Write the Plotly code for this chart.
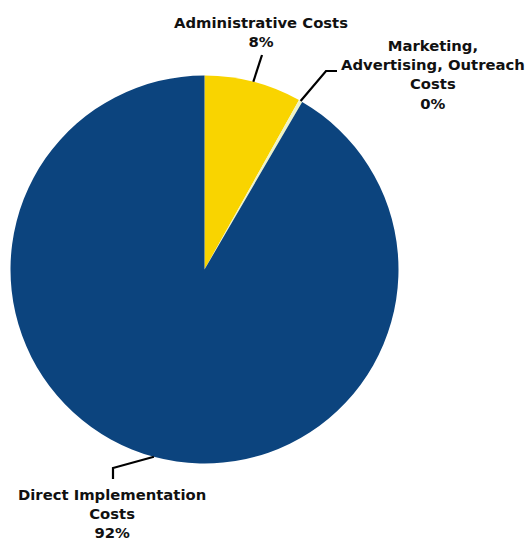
import math
import plotly.graph_objects as go

# Budget shares by cost category (percent)
categories = ["Administrative Costs", "Marketing, Advertising, Outreach Costs", "Direct Implementation Costs"]
label_lines = [["Administrative Costs"], ["Marketing,", "Advertising, Outreach", "Costs"], ["Direct Implementation", "Costs"]]
shares = [8.1, 0.3, 91.6]
colors = ["#f9d400", "#eef3c6", "#0c447e"]

W, H = 527, 540
CX, CY, R = 204.5, 269.5, 194.0  # pie centre and radius in pixels

# label block centres and leader-line bend/end points (pixels)
label_pos = [(261, 32), (433, 75), (112, 513)]
leader_tail = [[(262, 55)], [(326, 71), (337, 71)], [(113, 468), (113, 479)]]


def px(x, y):
    return x / W, 1 - y / H


total = sum(shares)
pct_text = [f"{round(v / total * 100)}%" for v in shares]

fig = go.Figure(
    go.Pie(
        labels=categories,
        values=shares,
        sort=False,
        direction="clockwise",
        rotation=0,
        marker=dict(colors=colors, line=dict(width=0)),
        textinfo="none",
        hoverinfo="label+percent",
        showlegend=False,
        domain=dict(x=[(CX - R) / W, (CX + R) / W], y=[1 - (CY + R) / H, 1 - (CY - R) / H]),
    )
)

font = dict(family="DejaVu Sans", size=14.8, color="#111111")
annotations = []
shapes = []
cum = 0.0
for i, v in enumerate(shares):
    mid = (cum + v / 2) / total * 2 * math.pi
    cum += v
    sx, sy = CX + R * math.sin(mid), CY - R * math.cos(mid)
    pts = [(sx, sy)] + leader_tail[i]
    path = "M " + " L ".join(f"{px(x, y)[0]:.5f},{px(x, y)[1]:.5f}" for x, y in pts)
    shapes.append(dict(type="path", xref="paper", yref="paper", path=path,
                       line=dict(color="black", width=2.2)))
    lx, ly = px(*label_pos[i])
    text = "<br>".join(f"<b>{t}</b>" for t in label_lines[i] + [pct_text[i]])
    annotations.append(dict(x=lx, y=ly, xref="paper", yref="paper", text=text,
                            showarrow=False, xanchor="center", yanchor="middle",
                            align="center", font=font))

fig.update_layout(
    width=W, height=H,
    margin=dict(l=0, r=0, t=0, b=0),
    paper_bgcolor="white",
    plot_bgcolor="white",
    annotations=annotations,
    shapes=shapes,
)

fig.write_html("out.html")
